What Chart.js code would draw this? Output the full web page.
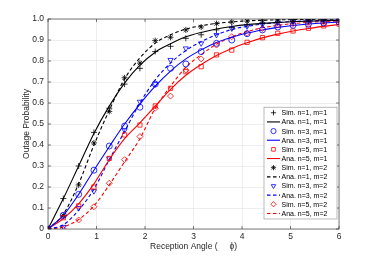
<!DOCTYPE html>
<html>
<head>
<meta charset="utf-8">
<script src="https://cdn.jsdelivr.net/npm/chart.js@4.4.1/dist/chart.umd.min.js"></script>
<style>
  html, body { margin: 0; padding: 0; background: #fff; }
  canvas { display: block; }
</style>
</head>
<body>
<canvas id="chart" width="375" height="257"></canvas>
<script>
// angles where the curves were sampled (0 .. 6, 20 points)
const angles = [0, 0.316, 0.632, 0.947, 1.263, 1.579, 1.895, 2.211, 2.526, 2.842,
                3.158, 3.474, 3.789, 4.105, 4.421, 4.737, 5.053, 5.368, 5.684, 6];

// analytical curves
const anaN1M1 = [0, 0.145, 0.30, 0.455, 0.585, 0.695, 0.78, 0.842, 0.882, 0.915, 0.936, 0.952, 0.964, 0.973, 0.979, 0.984, 0.987, 0.99, 0.992, 0.993];
const anaN3M1 = [0, 0.065, 0.165, 0.28, 0.392, 0.5, 0.595, 0.68, 0.752, 0.81, 0.853, 0.888, 0.913, 0.933, 0.948, 0.96, 0.969, 0.976, 0.981, 0.986];
const anaN5M1 = [0, 0.05, 0.12, 0.215, 0.33, 0.43, 0.505, 0.585, 0.665, 0.732, 0.783, 0.826, 0.86, 0.887, 0.91, 0.928, 0.943, 0.955, 0.965, 0.974];
const anaN1M2 = [0, 0.07, 0.215, 0.40, 0.565, 0.715, 0.815, 0.885, 0.925, 0.952, 0.968, 0.979, 0.986, 0.991, 0.994, 0.996, 0.997, 0.998, 0.999, 0.999];
const anaN3M2 = [0, 0.02, 0.09, 0.19, 0.33, 0.465, 0.6, 0.71, 0.79, 0.85, 0.892, 0.925, 0.95, 0.965, 0.976, 0.983, 0.988, 0.991, 0.993, 0.995];
const anaN5M2 = [0, 0.01, 0.045, 0.11, 0.21, 0.32, 0.43, 0.575, 0.68, 0.77, 0.83, 0.88, 0.915, 0.94, 0.958, 0.97, 0.978, 0.984, 0.988, 0.991];

// simulated points
const simN1M1 = [0, 0.145, 0.30, 0.46, 0.575, 0.69, 0.765, 0.845, 0.87, 0.908, 0.925, 0.948, 0.96, 0.972, 0.98, 0.985, 0.988, 0.99, 0.992, 0.993];
const simN3M1 = [0, 0.065, 0.165, 0.28, 0.395, 0.49, 0.58, 0.69, 0.765, 0.786, 0.845, 0.884, 0.9, 0.93, 0.948, 0.962, 0.97, 0.975, 0.982, 0.986];
const simN5M1 = [0, 0.054, 0.11, 0.2, 0.336, 0.448, 0.495, 0.586, 0.67, 0.749, 0.773, 0.829, 0.852, 0.889, 0.911, 0.932, 0.943, 0.956, 0.967, 0.976];
const simN1M2 = [0, 0.065, 0.21, 0.41, 0.56, 0.72, 0.79, 0.897, 0.913, 0.948, 0.962, 0.978, 0.986, 0.99, 0.994, 0.996, 0.997, 0.998, 0.998, 0.999];
const simN3M2 = [0, 0.01, 0.1, 0.18, 0.336, 0.47, 0.606, 0.69, 0.805, 0.86, 0.884, 0.924, 0.955, 0.965, 0.975, 0.983, 0.988, 0.99, 0.993, 0.995];
const simN5M2 = [0, 0, 0.043, 0.106, 0.218, 0.33, 0.44, 0.575, 0.633, 0.757, 0.81, 0.876, 0.916, 0.932, 0.955, 0.971, 0.978, 0.985, 0.989, 0.991];

const xTicks = [0, 1, 2, 3, 4, 5, 6];
const yTicks = [0, 0.1, 0.2, 0.3, 0.4, 0.5, 0.6, 0.7, 0.8, 0.9, 1];

const FONT = 'Liberation Sans, Arial, Helvetica, sans-serif';
const AXIS_COLOR = '#262626';

function toPoints(vals) {
    return vals.map((v, i) => ({ x: angles[i], y: v }));
}

// simulated series: markers only
function simSet(label, vals, color, style, rot) {
    return {
        label: label,
        data: toPoints(vals),
        showLine: false,
        borderColor: color,
        backgroundColor: 'rgba(0,0,0,0)',
        pointStyle: style,
        pointRotation: rot || 0,
        pointRadius: 3,
        pointBorderWidth: 0.8,
        order: 1
    };
}

// analytical series: lines only
function anaSet(label, vals, color, dashed) {
    return {
        label: label,
        data: toPoints(vals),
        showLine: true,
        borderColor: color,
        borderWidth: 1.1,
        borderDash: dashed ? [3.5, 2.5] : [],
        pointRadius: 0,
        tension: 0.4,
        cubicInterpolationMode: 'monotone',
        order: 2
    };
}

const datasets = [
    simSet('Sim. n=1, m=1', simN1M1, '#000000', 'cross'),
    anaSet('Ana. n=1, m=1', anaN1M1, '#000000', false),
    simSet('Sim. n=3, m=1', simN3M1, '#0000ff', 'circle'),
    anaSet('Ana. n=3, m=1', anaN3M1, '#0000ff', false),
    simSet('Sim. n=5, m=1', simN5M1, '#ff0000', 'rect'),
    anaSet('Ana. n=5, m=1', anaN5M1, '#ff0000', false),
    simSet('Sim. n=1, m=2', simN1M2, '#000000', 'star'),
    anaSet('Ana. n=1, m=2', anaN1M2, '#000000', true),
    simSet('Sim. n=3, m=2', simN3M2, '#0000ff', 'triangle', 180),
    anaSet('Ana. n=3, m=2', anaN3M2, '#0000ff', true),
    simSet('Sim. n=5, m=2', simN5M2, '#ff0000', 'rectRot'),
    anaSet('Ana. n=5, m=2', anaN5M2, '#ff0000', true)
];

// box around the axes plus inward tick marks (matlab style)
const boxPlugin = {
    id: 'box',
    afterDraw(chart) {
        const { ctx, chartArea: a, scales } = chart;
        ctx.save();
        ctx.strokeStyle = AXIS_COLOR;
        ctx.lineWidth = 0.6;
        ctx.strokeRect(a.left, a.top, a.right - a.left, a.bottom - a.top);
        ctx.beginPath();
        xTicks.forEach(t => {
            const px = scales.x.getPixelForValue(t);
            ctx.moveTo(px, a.bottom); ctx.lineTo(px, a.bottom - 3);
            ctx.moveTo(px, a.top); ctx.lineTo(px, a.top + 3);
        });
        yTicks.forEach(t => {
            const py = scales.y.getPixelForValue(t);
            ctx.moveTo(a.left, py); ctx.lineTo(a.left + 3, py);
            ctx.moveTo(a.right, py); ctx.lineTo(a.right - 3, py);
        });
        ctx.stroke();
        ctx.restore();
    }
};

// legend drawn inside the axes, lower right
const legendPlugin = {
    id: 'insideLegend',
    afterDraw(chart) {
        const ctx = chart.ctx;
        const a = chart.chartArea;
        const sets = chart.data.datasets;
        const w = 73, rowH = 9.15;
        const h = sets.length * rowH + 2;
        const x0 = a.right - w - 2, y0 = a.bottom - h - 10;
        ctx.save();
        ctx.fillStyle = '#fff';
        ctx.fillRect(x0, y0, w, h);
        ctx.strokeStyle = '#8c8c8c';
        ctx.lineWidth = 0.6;
        ctx.strokeRect(x0, y0, w, h);
        ctx.font = '7px ' + FONT;
        ctx.textBaseline = 'middle';
        sets.forEach((ds, i) => {
            const cy = y0 + 1 + rowH * (i + 0.5);
            ctx.strokeStyle = ds.borderColor;
            if (ds.showLine) {
                ctx.lineWidth = 1.1;
                ctx.setLineDash(ds.borderDash);
                ctx.beginPath();
                ctx.moveTo(x0 + 3, cy);
                ctx.lineTo(x0 + 16, cy);
                ctx.stroke();
                ctx.setLineDash([]);
            } else {
                ctx.lineWidth = 0.8;
                ctx.fillStyle = 'rgba(0,0,0,0)';
                Chart.helpers.drawPoint(ctx, {
                    pointStyle: ds.pointStyle,
                    rotation: ds.pointRotation,
                    radius: 2.6,
                    borderWidth: 0.8
                }, x0 + 9.5, cy);
            }
            ctx.fillStyle = '#000';
            ctx.fillText(ds.label, x0 + 17.5, cy + 0.5);
        });
        ctx.restore();
    }
};

new Chart(document.getElementById('chart'), {
    type: 'scatter',
    data: { datasets: datasets },
    plugins: [boxPlugin, legendPlugin],
    options: {
        responsive: false,
        animation: false,
        layout: { padding: { left: 0, top: 19, right: 36, bottom: 0 } },
        plugins: {
            legend: { display: false },
            tooltip: { enabled: false }
        },
        scales: {
            x: {
                type: 'linear',
                min: 0,
                max: 6,
                afterFit(scale) { scale.height = 28; },
                afterBuildTicks(scale) { scale.ticks = xTicks.map(v => ({ value: v })); },
                ticks: { color: AXIS_COLOR, font: { family: FONT, size: 8.5 }, padding: 3, maxRotation: 0 },
                grid: { color: '#e3e3e3', lineWidth: 0.6, drawTicks: false },
                border: { display: false },
                title: {
                    display: true,
                    text: 'Reception Angle (     \u03d5)',
                    color: AXIS_COLOR,
                    font: { family: FONT, size: 8.5 },
                    padding: { top: 5, bottom: 5 }
                }
            },
            y: {
                type: 'linear',
                min: 0,
                max: 1,
                afterFit(scale) { scale.width = 48; },
                afterBuildTicks(scale) { scale.ticks = yTicks.map(v => ({ value: v })); },
                ticks: { color: AXIS_COLOR, font: { family: FONT, size: 8.5 }, padding: 4 },
                grid: { color: '#e3e3e3', lineWidth: 0.6, drawTicks: false },
                border: { display: false },
                title: {
                    display: true,
                    text: 'Outage Probability',
                    color: AXIS_COLOR,
                    font: { family: FONT, size: 8.5 },
                    padding: { top: 22, bottom: 22 }
                }
            }
        }
    }
});
</script>
</body>
</html>
